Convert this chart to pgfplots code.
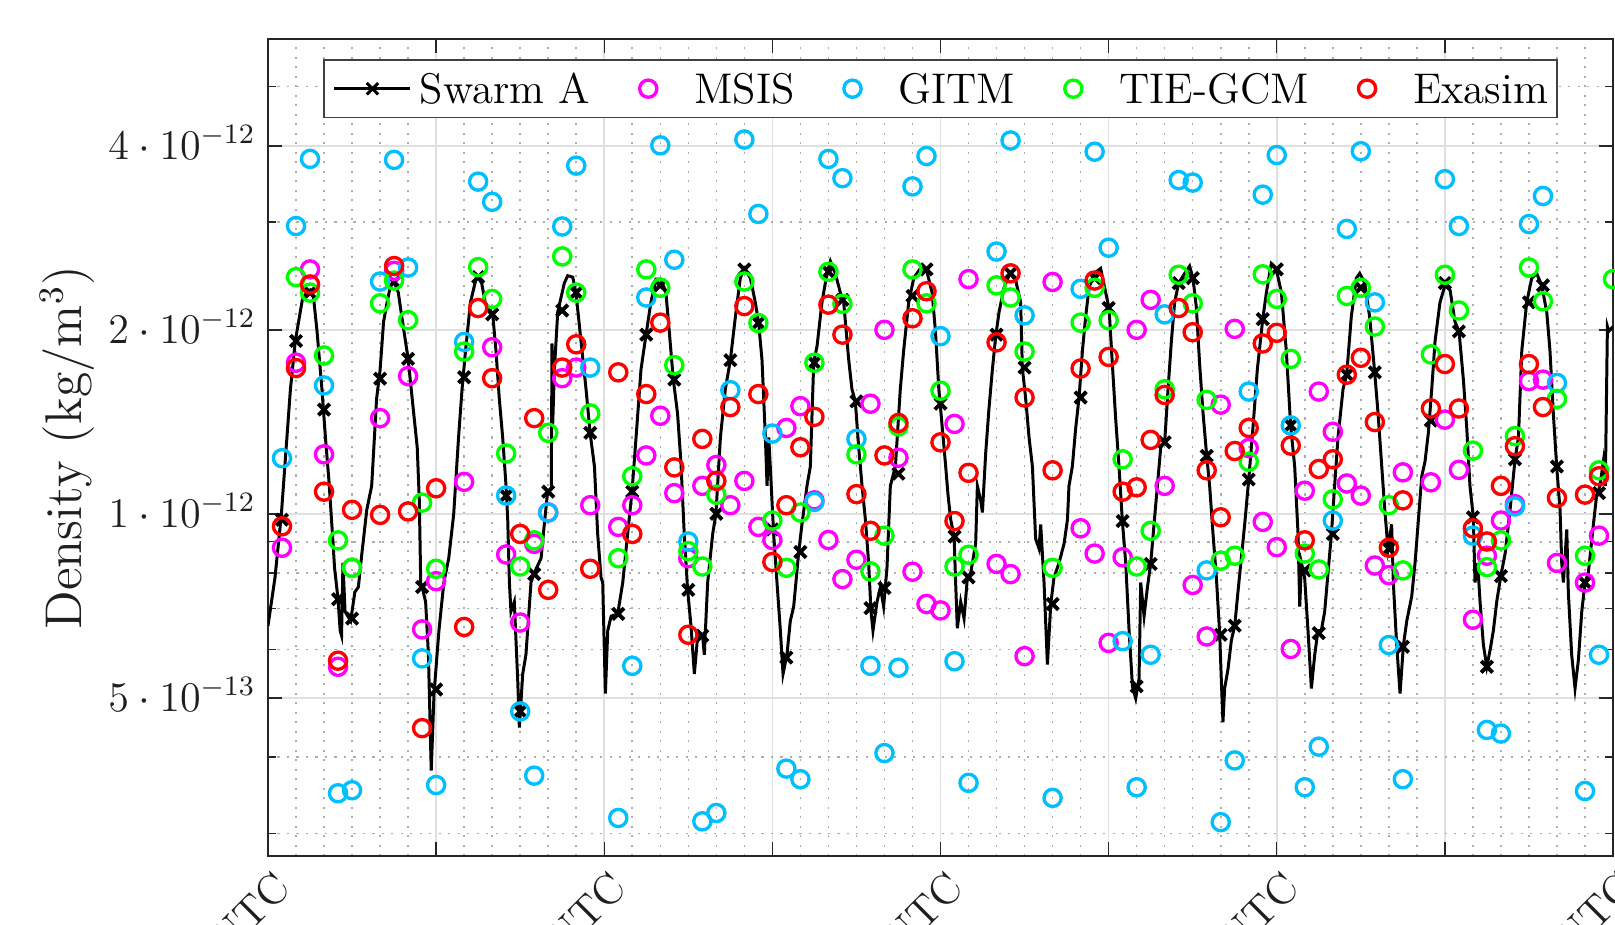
\documentclass[border=0pt]{standalone}
\usepackage{pgfplots}
\pgfplotsset{compat=1.18}
\definecolor{cmsis}{rgb}{1,0,1}
\definecolor{cgitm}{rgb}{0,0.75,1}
\definecolor{ctie}{rgb}{0,1,0}
\definecolor{cexa}{rgb}{1,0,0}
\definecolor{axgray}{rgb}{0.15,0.15,0.15}
\begin{document}
\begin{tikzpicture}
\begin{axis}[
  name=ax,
  scale only axis,
  width=13.45cm, height=8.17cm,
  xmin=0, xmax=96,
  ymode=log, ymin=2.754e-13, ymax=5.98e-12,
  xtick={0,12,...,96},
  xticklabels={2015-03-17 00:00 UTC,,2015-03-19 00:00 UTC,,2015-03-21 00:00 UTC,,2015-03-23 00:00 UTC,,2015-03-25 00:00 UTC},
  minor x tick num=5,
  ytick={5e-13,1e-12,2e-12,4e-12},
  yticklabels={$5\cdot10^{-13}$,$1\cdot10^{-12}$,$2\cdot10^{-12}$,$4\cdot10^{-12}$},
  minor ytick={3e-13,4e-13,6e-13,7e-13,8e-13,9e-13,3e-12,5e-12},
  grid=both,
  major grid style={draw=black!12, line width=0.45pt},
  minor grid style={draw=black!32, line width=0.45pt, dash pattern=on 0.6pt off 2.1pt},
  major tick length=0.14cm, minor tick length=0.08cm,
  minor x tick style={draw=none},
  tick style={axgray, line width=0.4pt},
  axis line style={axgray, line width=0.45pt},
  tick label style={font=\fontsize{12}{14}\selectfont, text=black!88},
  yticklabel style={anchor=base east, yshift=-3.8pt},
  xticklabel style={xshift=0.15cm, yshift=-0.24cm, rotate=45, anchor=east, inner sep=0pt},
  ylabel={Density (kg/m$^3$)},
  every axis y label/.style={at={(axis description cs:-0.1494,0.5)}, rotate=90, anchor=center, font=\fontsize{14.7}{17}\selectfont, text=black!88},
  legend columns=5,
  legend image code/.code={\path[draw=none] (0cm,0cm) (0.76cm,0cm); \draw[mark repeat=2,mark phase=2] plot coordinates {(0cm,0cm) (0.38cm,0cm) (0.76cm,0cm)};},
  legend style={at={(0.5,1)}, anchor=north, yshift=-0.2cm, draw=black!75, line width=0.45pt, fill=white,
    font=\fontsize{12.2}{14}\selectfont, inner xsep=0.09cm, inner ysep=0.135cm,
    nodes={inner sep=0pt, text depth=0pt},
    /tikz/every odd column/.append style={column sep=0.08cm},
    /tikz/every even column/.append style={column sep=0.2cm}},
]
% Swarm A continuous line
\addplot[black, line width=0.85pt, forget plot] coordinates {
(0,0.656e-12) (0.5,0.787e-12) (0.95,0.995e-12) (1.35,1.333e-12) (1.6,1.599e-12) (1.95,1.918e-12) (2.45,2.239e-12) (2.75,2.301e-12) (3.0,2.322e-12) (3.25,2.259e-12) (3.5,1.989e-12) (3.85,1.599e-12) (4.1,1.333e-12) (4.35,1.132e-12) (4.6,0.927e-12) (4.75,0.816e-12) (5.0,0.725e-12) (5.15,0.644e-12) (5.25,0.632e-12) (5.35,0.831e-12) (5.5,0.692e-12) (5.9,0.668e-12) (6.2,0.745e-12) (6.45,0.759e-12) (6.7,0.861e-12) (7.05,1.015e-12) (7.4,1.111e-12) (7.75,1.542e-12) (8.0,1.720e-12) (8.25,2.062e-12) (8.5,2.218e-12) (8.75,2.365e-12) (9.0,2.395e-12) (9.3,2.301e-12) (9.55,2.101e-12) (10.0,1.793e-12) (10.4,1.460e-12) (10.65,1.285e-12) (10.8,1.052e-12) (10.9,0.772e-12) (11.0,0.759e-12) (11.25,0.718e-12) (11.45,0.588e-12) (11.65,0.380e-12) (11.85,0.508e-12) (12.2,0.644e-12) (12.55,0.772e-12) (12.9,0.846e-12) (13.25,0.996e-12) (13.6,1.333e-12) (13.85,1.599e-12) (14.1,1.850e-12) (14.45,2.218e-12) (14.9,2.452e-12) (15.25,2.385e-12) (15.5,2.218e-12) (15.94,2.139e-12)
(16.04,2.120e-12) (16.27,1.850e-12) (16.51,1.542e-12) (16.75,1.333e-12) (16.99,1.111e-12) (17.11,0.978e-12) (17.23,0.772e-12) (17.34,0.692e-12) (17.58,0.718e-12) (17.82,0.537e-12) (17.94,0.447e-12) (18.18,0.547e-12) (18.41,0.588e-12) (18.77,0.772e-12) (19.01,0.801e-12) (19.49,0.846e-12) (19.72,0.961e-12) (19.96,1.087e-12) (20.22,1.10e-12) (20.27,1.900e-12) (20.32,1.40e-12) (20.44,1.720e-12) (20.68,2.139e-12) (21.15,2.385e-12) (21.39,2.452e-12) (21.75,2.439e-12) (21.98,2.301e-12) (22.34,1.918e-12) (22.70,1.599e-12) (22.99,1.357e-12) (23.30,1.195e-12) (23.53,0.927e-12) (23.77,0.787e-12) (23.89,0.772e-12) (24.08,0.508e-12) (24.25,0.644e-12) (24.49,0.680e-12) (24.96,0.686e-12) (25.32,0.772e-12) (25.67,0.927e-12) (25.98,1.087e-12) (26.27,1.333e-12) (26.62,1.720e-12) (26.98,1.964e-12) (27.33,2.218e-12) (27.69,2.421e-12) (28.05,2.421e-12) (28.40,2.301e-12) (28.64,1.989e-12) (28.93,1.658e-12) (29.23,1.460e-12) (29.47,1.217e-12) (29.71,0.927e-12) (29.95,0.751e-12) (30.19,0.656e-12) (30.43,0.547e-12) (30.67,0.632e-12) (31.02,0.632e-12) (31.14,0.588e-12) (31.38,0.772e-12) (31.74,0.927e-12) (31.97,1.000e-12)
(32.29,1.333e-12) (32.64,1.599e-12) (33.0,1.784e-12) (33.36,2.101e-12) (33.71,2.430e-12) (34.0,2.520e-12) (34.43,2.430e-12) (34.78,2.218e-12) (35.02,2.052e-12) (35.26,1.784e-12) (35.5,1.333e-12) (35.62,1.111e-12) (35.74,1.333e-12) (35.85,1.195e-12) (36.09,0.927e-12) (36.33,0.772e-12) (36.57,0.644e-12) (36.76,0.547e-12) (37.04,0.588e-12) (37.28,0.668e-12) (37.52,0.705e-12) (37.88,0.866e-12) (38.11,0.961e-12) (38.47,1.111e-12) (38.71,1.195e-12) (38.95,1.767e-12) (39.19,1.883e-12) (39.54,2.218e-12) (39.9,2.474e-12) (40.14,2.590e-12) (40.49,2.474e-12) (40.85,2.301e-12) (41.09,2.218e-12) (41.45,1.784e-12) (41.68,1.599e-12) (41.92,1.528e-12) (42.16,1.285e-12) (42.4,1.111e-12) (42.64,0.978e-12) (42.87,0.831e-12) (43.04,0.692e-12) (43.18,0.644e-12) (43.47,0.718e-12) (43.71,0.759e-12) (43.94,0.705e-12) (44.18,0.816e-12) (44.42,1.111e-12) (44.78,1.195e-12) (45.13,1.599e-12) (45.37,1.850e-12) (45.73,2.218e-12) (46.09,2.430e-12) (46.56,2.520e-12) (46.99,2.511e-12) (47.4,2.301e-12) (47.64,1.989e-12) (47.88,1.599e-12)
(48.13,1.382e-12) (48.37,1.195e-12) (48.54,1.071e-12) (48.73,0.978e-12) (48.97,0.918e-12) (49.08,0.772e-12) (49.2,0.650e-12) (49.44,0.718e-12) (49.68,0.674e-12) (49.92,0.787e-12) (50.16,0.801e-12) (50.51,0.894e-12) (50.63,1.111e-12) (50.87,1.052e-12) (50.99,1.005e-12) (51.23,1.262e-12) (51.46,1.487e-12) (51.7,1.720e-12) (51.94,1.953e-12) (52.18,2.139e-12) (52.53,2.343e-12) (52.96,2.474e-12) (53.37,2.408e-12) (53.72,2.218e-12) (53.84,1.735e-12) (54.08,1.542e-12) (54.32,1.333e-12) (54.56,1.195e-12) (54.79,0.910e-12) (55.03,0.877e-12) (55.15,0.961e-12) (55.39,0.772e-12) (55.63,0.567e-12) (55.87,0.712e-12) (56.1,0.787e-12) (56.46,0.831e-12) (56.82,0.894e-12) (57.06,0.978e-12) (57.17,1.111e-12) (57.41,1.195e-12) (57.65,1.382e-12) (57.89,1.550e-12) (58.13,1.850e-12) (58.36,2.101e-12) (58.6,2.343e-12) (58.96,2.474e-12) (59.43,2.520e-12) (59.79,2.301e-12) (60.03,2.171e-12) (60.27,1.751e-12) (60.5,1.434e-12) (60.74,1.195e-12) (60.98,0.973e-12) (61.22,0.831e-12) (61.46,0.644e-12) (61.7,0.522e-12) (61.93,0.499e-12) (62.17,0.537e-12) (62.29,0.772e-12) (62.53,0.680e-12) (62.77,0.759e-12) (63.0,0.828e-12) (63.24,0.961e-12) (63.48,1.111e-12) (63.72,1.285e-12)
(64.0,1.309e-12) (64.24,1.599e-12) (64.48,1.918e-12) (64.71,2.218e-12) (65.0,2.385e-12) (65.43,2.474e-12) (65.78,2.543e-12) (66.02,2.430e-12) (66.26,2.178e-12) (66.5,1.751e-12) (66.74,1.460e-12) (67.0,1.244e-12) (67.21,1.111e-12) (67.45,0.927e-12) (67.69,0.787e-12) (67.93,0.634e-12) (68.04,0.537e-12) (68.16,0.456e-12) (68.28,0.518e-12) (68.52,0.557e-12) (68.76,0.621e-12) (69.0,0.656e-12) (69.23,0.745e-12) (69.47,0.846e-12) (69.71,0.961e-12) (70.0,1.138e-12) (70.3,1.382e-12) (70.61,1.720e-12) (71.0,2.082e-12) (71.26,2.301e-12) (71.61,2.566e-12) (71.97,2.511e-12) (72.33,2.301e-12) (72.68,1.850e-12) (72.99,1.395e-12) (73.28,1.195e-12) (73.52,0.927e-12) (73.64,0.705e-12) (73.76,0.831e-12) (73.99,0.787e-12) (74.23,0.644e-12) (74.47,0.518e-12) (74.71,0.588e-12) (74.94,0.644e-12) (75.18,0.644e-12) (75.42,0.692e-12) (75.66,0.801e-12) (75.9,0.927e-12) (76.13,1.111e-12) (76.37,1.333e-12) (76.73,1.599e-12) (76.99,1.689e-12) (77.32,2.101e-12) (77.68,2.430e-12) (77.92,2.474e-12) (78.28,2.385e-12) (78.63,2.101e-12) (78.99,1.704e-12) (79.23,1.460e-12) (79.47,1.217e-12) (79.71,1.015e-12) (79.94,0.877e-12)
(80.2,0.961e-12) (80.32,0.772e-12) (80.56,0.610e-12) (80.8,0.508e-12) (81.04,0.610e-12) (81.28,0.668e-12) (81.63,0.732e-12) (81.87,0.831e-12) (82.11,0.978e-12) (82.35,1.152e-12) (82.58,1.217e-12) (82.82,1.357e-12) (83.06,1.599e-12) (83.3,1.918e-12) (83.65,2.218e-12) (84.01,2.365e-12) (84.37,2.322e-12) (84.72,2.062e-12) (85.01,1.989e-12) (85.32,1.658e-12) (85.56,1.382e-12) (85.79,1.111e-12) (86.03,0.987e-12) (86.15,0.772e-12) (86.34,0.831e-12) (86.51,0.718e-12) (86.75,0.610e-12) (86.99,0.562e-12) (87.23,0.599e-12) (87.46,0.644e-12) (87.7,0.718e-12) (87.99,0.791e-12) (88.3,0.861e-12) (88.65,1.015e-12) (89.01,1.228e-12) (89.25,1.333e-12) (89.49,1.850e-12) (89.84,2.218e-12) (90.2,2.430e-12) (90.55,2.474e-12) (90.91,2.365e-12) (91.27,2.139e-12) (91.5,1.850e-12) (91.74,1.460e-12) (91.98,1.195e-12) (92.22,1.015e-12) (92.34,0.831e-12) (92.46,0.772e-12) (92.7,0.943e-12) (92.81,0.745e-12) (93.05,0.588e-12) (93.29,0.518e-12) (93.53,0.577e-12) (93.77,0.692e-12) (94.0,0.772e-12) (94.24,0.801e-12) (94.6,0.961e-12) (94.83,1.071e-12) (95.07,1.111e-12) (95.31,1.217e-12) (95.45,1.111e-12) (95.6,2.025e-12) (95.7,1.989e-12) (96.0,2.025e-12)
};
% Swarm A samples
\addplot[black, only marks, mark=x, mark size=2.3pt, mark options={line width=1.1pt}, forget plot] coordinates {
(1,0.978e-12) (2,1.918e-12) (3,2.301e-12) (4,1.481e-12) (5,0.725e-12) (6,0.674e-12) (8,1.664e-12) (9,2.395e-12) (10,1.793e-12) (11,0.759e-12) (12,0.516e-12) (14,1.673e-12) (15,2.439e-12) (16,2.120e-12) (17,1.071e-12) (18,0.475e-12) (19,0.797e-12) (20,1.087e-12) (21,2.151e-12) (22,2.301e-12) (23,1.357e-12) (25,0.686e-12) (26,1.087e-12) (27,1.964e-12) (28,2.365e-12) (29,1.658e-12) (30,0.751e-12) (31,0.632e-12) (32,1.000e-12) (33,1.784e-12) (34,2.511e-12) (35,2.052e-12) (36,0.943e-12) (37,0.582e-12) (38,0.866e-12) (39,1.767e-12) (40,2.488e-12) (41,2.239e-12) (42,1.528e-12) (43,0.701e-12) (44,0.756e-12) (45,1.163e-12) (46,2.272e-12) (47,2.511e-12) (48,1.514e-12) (49,0.918e-12) (50,0.787e-12) (52,1.964e-12) (53,2.474e-12) (54,1.735e-12) (56,0.712e-12) (58,1.550e-12) (59,2.430e-12) (60,2.171e-12) (61,0.973e-12) (62,0.522e-12) (63,0.828e-12) (64,1.309e-12) (65,2.385e-12) (66,2.430e-12) (67,1.244e-12) (68,0.634e-12) (69,0.656e-12) (70,1.138e-12) (71,2.082e-12) (72,2.511e-12) (73,1.395e-12) (74,0.808e-12) (75,0.638e-12) (76,0.927e-12) (77,1.689e-12) (78,2.343e-12) (79,1.704e-12) (80,0.877e-12) (81,0.606e-12) (83,1.421e-12) (84,2.385e-12) (85,1.989e-12) (86,0.987e-12) (87,0.562e-12) (88,0.791e-12) (89,1.228e-12) (90,2.218e-12) (91,2.365e-12) (92,1.195e-12) (94,0.772e-12) (95,1.081e-12)
};
\addlegendimage{black, line width=0.85pt, mark=x, mark size=2.3pt, mark options={line width=0.85pt}}
% MSIS
\addplot[only marks, mark=o, mark size=2.45pt, mark options={draw=cmsis, line width=0.95pt}] coordinates {
(1,0.880e-12) (2,1.767e-12) (3,2.511e-12) (4,1.251e-12) (5,0.562e-12) (6,0.816e-12) (8,1.434e-12) (9,2.497e-12) (10,1.680e-12) (11,0.647e-12) (12,0.776e-12) (14,1.128e-12) (16,1.873e-12) (17,0.858e-12) (18,0.664e-12) (19,0.893e-12) (20,1.005e-12) (21,1.667e-12) (22,1.735e-12) (23,1.033e-12) (25,0.952e-12) (26,1.033e-12) (27,1.246e-12) (28,1.447e-12) (29,1.081e-12) (30,0.846e-12) (31,1.111e-12) (32,1.202e-12) (33,1.033e-12) (34,1.132e-12) (35,0.952e-12) (36,0.906e-12) (37,1.382e-12) (38,1.500e-12) (39,1.052e-12) (40,0.906e-12) (41,0.782e-12) (42,0.841e-12) (43,1.514e-12) (44,2.000e-12) (45,1.235e-12) (46,0.804e-12) (47,0.712e-12) (48,0.695e-12) (49,1.403e-12) (50,2.421e-12) (52,0.828e-12) (53,0.797e-12) (54,0.585e-12) (56,2.395e-12) (58,0.947e-12) (59,0.861e-12) (60,0.615e-12) (61,0.849e-12) (62,2.000e-12) (63,2.239e-12) (64,1.111e-12) (66,0.765e-12) (67,0.630e-12) (68,1.509e-12) (69,2.007e-12) (70,1.281e-12) (71,0.970e-12) (72,0.882e-12) (73,0.601e-12) (74,1.091e-12) (75,1.585e-12) (76,1.362e-12) (77,1.121e-12) (78,1.071e-12) (79,0.823e-12) (80,0.794e-12) (81,1.169e-12) (83,1.126e-12) (84,1.426e-12) (85,1.180e-12) (86,0.671e-12) (87,0.854e-12) (88,0.975e-12) (89,1.037e-12) (90,1.649e-12) (91,1.658e-12) (92,0.831e-12) (94,0.772e-12) (95,0.921e-12)
};
% GITM
\addplot[only marks, mark=o, mark size=2.45pt, mark options={draw=cgitm, line width=0.95pt}] coordinates {
(1,1.233e-12) (2,2.957e-12) (3,3.808e-12) (4,1.622e-12) (5,0.349e-12) (6,0.353e-12) (8,2.399e-12) (9,3.794e-12) (10,2.529e-12) (11,0.580e-12) (12,0.360e-12) (14,1.911e-12) (15,3.496e-12) (16,3.239e-12) (17,1.071e-12) (18,0.475e-12) (19,0.373e-12) (20,1.005e-12) (21,2.952e-12) (22,3.713e-12) (23,1.735e-12) (25,0.318e-12) (26,0.564e-12) (27,2.259e-12) (28,4.007e-12) (29,2.604e-12) (30,0.901e-12) (31,0.314e-12) (32,0.324e-12) (33,1.593e-12) (34,4.096e-12) (35,3.095e-12) (36,1.353e-12) (37,0.383e-12) (38,0.368e-12) (39,1.046e-12) (40,3.808e-12) (41,3.541e-12) (42,1.326e-12) (43,0.564e-12) (44,0.406e-12) (45,0.560e-12) (46,3.433e-12) (47,3.850e-12) (48,1.953e-12) (49,0.574e-12) (50,0.363e-12) (52,2.686e-12) (53,4.081e-12) (54,2.112e-12) (56,0.343e-12) (58,2.334e-12) (59,3.913e-12) (60,2.725e-12) (61,0.619e-12) (62,0.357e-12) (63,0.588e-12) (64,2.120e-12) (65,3.516e-12) (66,3.483e-12) (67,0.808e-12) (68,0.313e-12) (69,0.395e-12) (70,1.585e-12) (71,3.328e-12) (72,3.864e-12) (73,1.395e-12) (74,0.357e-12) (75,0.416e-12) (76,0.975e-12) (77,2.925e-12) (78,3.920e-12) (79,2.218e-12) (80,0.610e-12) (81,0.368e-12) (84,3.528e-12) (85,2.957e-12) (86,0.921e-12) (87,0.443e-12) (88,0.437e-12) (89,1.028e-12) (90,2.979e-12) (91,3.311e-12) (92,1.637e-12) (94,0.352e-12) (95,0.588e-12)
};
% TIE-GCM
\addplot[only marks, mark=o, mark size=2.45pt, mark options={draw=ctie, line width=0.95pt}] coordinates {
(2,2.439e-12) (3,2.301e-12) (4,1.816e-12) (5,0.905e-12) (6,0.816e-12) (8,2.210e-12) (9,2.408e-12) (10,2.074e-12) (11,1.043e-12) (12,0.813e-12) (14,1.843e-12) (15,2.533e-12) (16,2.247e-12) (17,1.255e-12) (18,0.820e-12) (19,0.905e-12) (20,1.357e-12) (21,2.637e-12) (22,2.301e-12) (23,1.460e-12) (25,0.846e-12) (26,1.152e-12) (27,2.511e-12) (28,2.343e-12) (29,1.751e-12) (30,0.869e-12) (31,0.820e-12) (32,1.075e-12) (34,2.399e-12) (35,2.052e-12) (36,0.975e-12) (37,0.816e-12) (38,1.005e-12) (39,1.767e-12) (40,2.488e-12) (41,2.206e-12) (42,1.251e-12) (43,0.805e-12) (44,0.921e-12) (45,1.390e-12) (46,2.511e-12) (47,2.210e-12) (48,1.590e-12) (49,0.820e-12) (50,0.857e-12) (52,2.365e-12) (53,2.259e-12) (54,1.843e-12) (56,0.816e-12) (58,2.055e-12) (59,2.343e-12) (60,2.074e-12) (61,1.228e-12) (62,0.820e-12) (63,0.938e-12) (64,1.599e-12) (65,2.461e-12) (66,2.210e-12) (67,1.536e-12) (68,0.838e-12) (69,0.854e-12) (70,1.217e-12) (71,2.465e-12) (72,2.247e-12) (73,1.793e-12) (74,0.861e-12) (75,0.811e-12) (76,1.056e-12) (77,2.272e-12) (78,2.343e-12) (79,2.025e-12) (80,1.033e-12) (81,0.808e-12) (83,1.823e-12) (84,2.461e-12) (85,2.151e-12) (86,1.269e-12) (87,0.818e-12) (88,0.905e-12) (89,1.340e-12) (90,2.529e-12) (91,2.227e-12) (92,1.542e-12) (94,0.854e-12) (95,1.178e-12) (96,2.421e-12)
};
% Exasim
\addplot[only marks, mark=o, mark size=2.45pt, mark options={draw=cexa, line width=0.95pt}] coordinates {
(1,0.954e-12) (2,1.732e-12) (3,2.373e-12) (4,1.087e-12) (5,0.575e-12) (6,1.015e-12) (8,0.996e-12) (9,2.543e-12) (10,1.009e-12) (11,0.446e-12) (12,1.101e-12) (14,0.653e-12) (15,2.171e-12) (16,1.667e-12) (18,0.927e-12) (19,1.434e-12) (20,0.751e-12) (21,1.735e-12) (22,1.894e-12) (23,0.813e-12) (25,1.704e-12) (26,0.927e-12) (27,1.570e-12) (28,2.055e-12) (29,1.191e-12) (30,0.634e-12) (31,1.326e-12) (32,1.132e-12) (33,1.495e-12) (34,2.187e-12) (35,1.570e-12) (36,0.834e-12) (37,1.033e-12) (38,1.285e-12) (39,1.441e-12) (40,2.199e-12) (41,1.964e-12) (42,1.077e-12) (43,0.938e-12) (44,1.246e-12) (45,1.408e-12) (46,2.089e-12) (47,2.313e-12) (48,1.309e-12) (49,0.973e-12) (50,1.167e-12) (52,1.908e-12) (53,2.474e-12) (54,1.550e-12) (56,1.178e-12) (58,1.729e-12) (59,2.408e-12) (60,1.806e-12) (61,1.087e-12) (62,1.105e-12) (63,1.321e-12) (64,1.565e-12) (65,2.171e-12) (66,1.982e-12) (67,1.178e-12) (68,0.987e-12) (69,1.267e-12) (70,1.382e-12) (71,1.900e-12) (72,1.978e-12) (73,1.293e-12) (74,0.905e-12) (75,1.184e-12) (76,1.228e-12) (77,1.689e-12) (78,1.800e-12) (79,1.413e-12) (80,0.880e-12) (81,1.052e-12) (83,1.487e-12) (84,1.758e-12) (85,1.487e-12) (86,0.947e-12) (87,0.901e-12) (88,1.111e-12) (89,1.290e-12) (90,1.758e-12) (91,1.495e-12) (92,1.062e-12) (94,1.075e-12) (95,1.152e-12)
};
\legend{Swarm A, MSIS, GITM, TIE-GCM, Exasim}
\end{axis}
\pgfresetboundingbox
\path[use as bounding box] ([xshift=-2.68cm,yshift=-0.68cm]ax.south west) rectangle ([xshift=0.02cm,yshift=0.39cm]ax.north east);
\end{tikzpicture}
\end{document}
